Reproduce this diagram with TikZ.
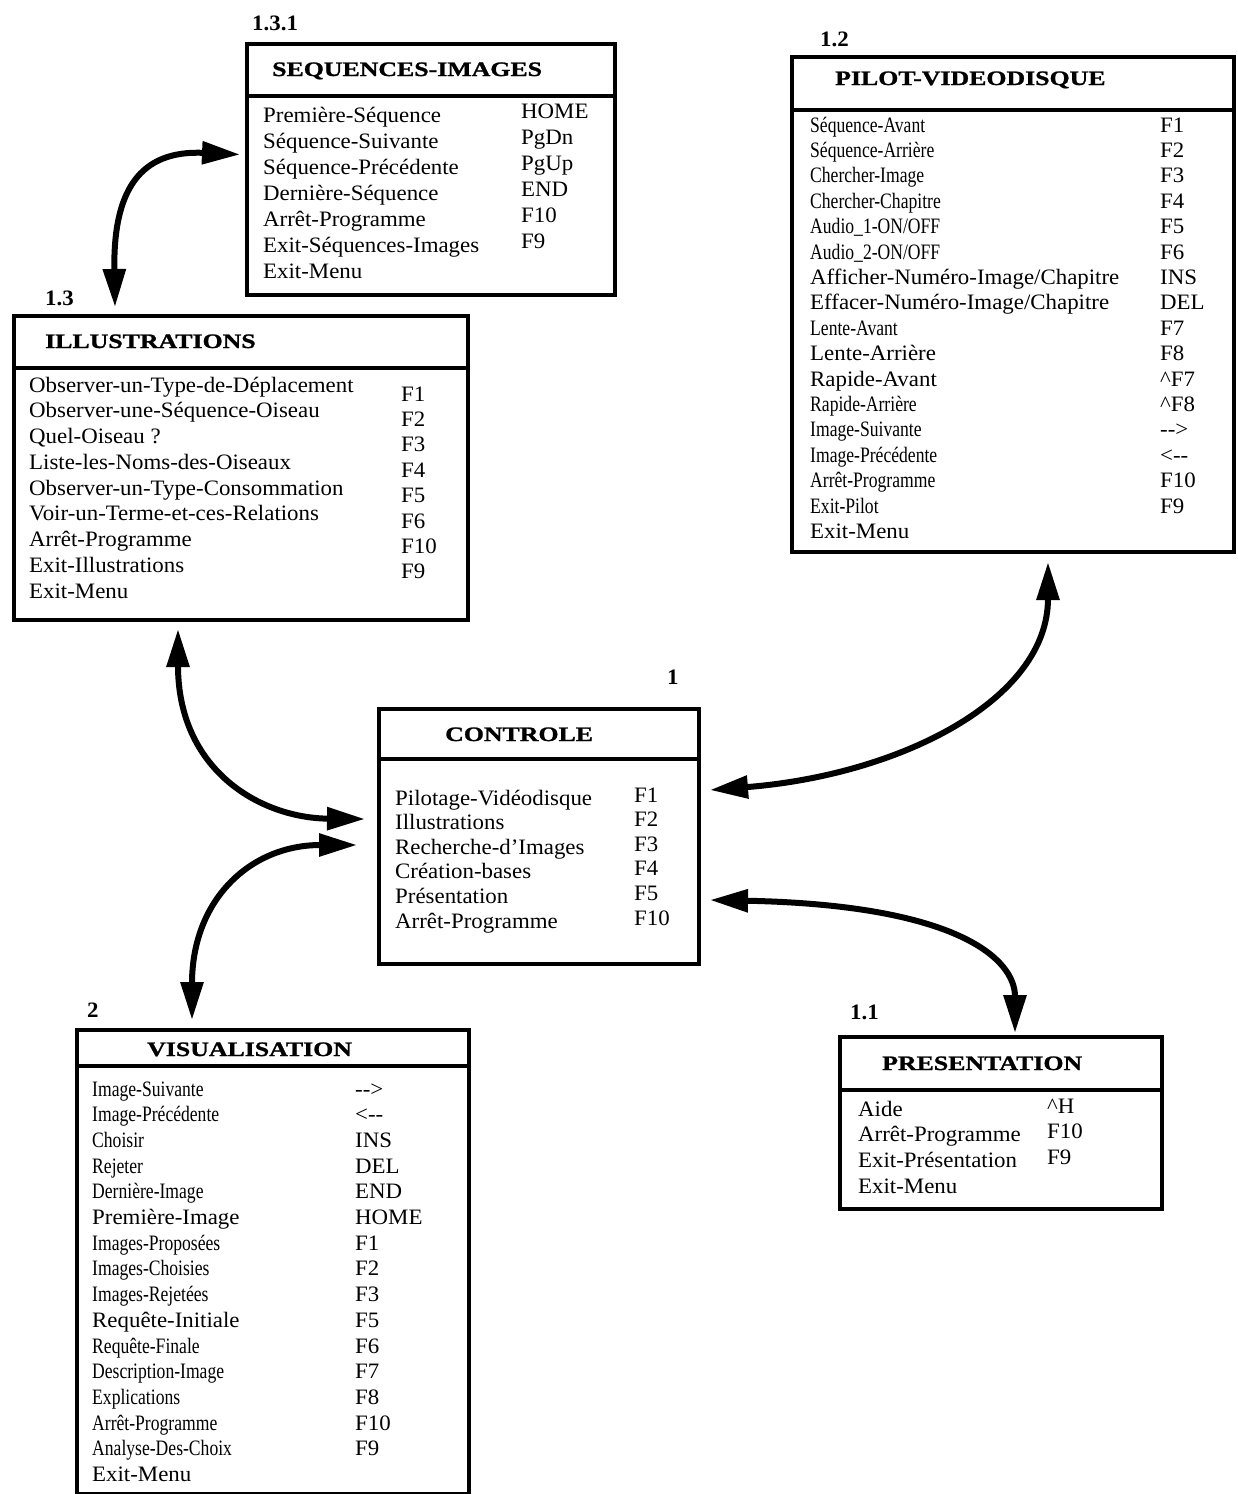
\documentclass[tikz,border=0pt]{standalone}
\usepackage{fontspec}
\setmainfont[FakeStretch=1.04]{Liberation Serif}
\newfontfamily\cndfont[FakeStretch=0.8]{Liberation Serif}
\newfontfamily\ttlfont[FakeStretch=1.26,FakeBold=1.2]{Liberation Serif}
\usetikzlibrary{arrows.meta,calc}
\newcommand\rarr{-\kern0pt-\kern0pt>}
\newcommand\larr{<\kern0pt-\kern0pt-}
\newcommand\ctl{\textasciicircum}
\tikzset{
  box/.style={draw, line width=4pt, inner sep=0pt, anchor=north west},
  divline/.style={line width=4pt},
  txt/.style={anchor=base west, inner sep=0pt, font=\fontsize{22}{22}\selectfont},
  ttl/.style={anchor=base west, inner sep=0pt, font=\ttlfont\bfseries\fontsize{20.5}{20.5}\selectfont},
  lbl/.style={anchor=base west, inner sep=0pt, font=\bfseries\fontsize{22}{22}\selectfont},
  conn/.style={line width=6pt, {Triangle[length=38pt,width=22pt]}-{Triangle[length=38pt,width=22pt]}}
}
\begin{document}
\begin{tikzpicture}[x=1pt,y=-1pt]
\useasboundingbox (0,0) rectangle (1238,1494);

% ---------- 1.3.1 SEQUENCES-IMAGES ----------
\node[box, minimum width=368pt, minimum height=251pt] (seq) at (245,42) {};
\draw[divline] ($(seq.north west)+(0,54)$) -- ($(seq.north east)+(0,54)$);
\node[lbl] (seqlbl) at (252,30) {1.3.1};
\node[ttl] (seqttl) at (272,76) {SEQUENCES-IMAGES};
\foreach \t [count=\i] in {Première-Séquence, Séquence-Suivante, Séquence-Précédente, Dernière-Séquence, Arrêt-Programme, Exit-Séquences-Images, Exit-Menu}
  \node[txt] (seq-a\i) at (263,{122+26*(\i-1)}) {\t};
\foreach \t [count=\i] in {HOME, PgDn, PgUp, END, F10, F9}
  \node[txt] (seq-b\i) at (521,{118+26*(\i-1)}) {\t};

% ---------- 1.2 PILOT-VIDEODISQUE ----------
\node[box, minimum width=442pt, minimum height=495pt] (pil) at (790,55) {};
\draw[divline] ($(pil.north west)+(0,55)$) -- ($(pil.north east)+(0,55)$);
\node[lbl] (pillbl) at (820,46) {1.2};
\node[ttl] (pilttl) at (835,85) {PILOT-VIDEODISQUE};
\foreach \t [count=\i] in {{\cndfont Séquence-Avant}, {\cndfont Séquence-Arrière}, {\cndfont Chercher-Image}, {\cndfont Chercher-Chapitre}, {\cndfont Audio\_1-ON/OFF}, {\cndfont Audio\_2-ON/OFF}, Afficher-Numéro-Image/Chapitre, Effacer-Numéro-Image/Chapitre, {\cndfont Lente-Avant}, Lente-Arrière, Rapide-Avant, {\cndfont Rapide-Arrière}, {\cndfont Image-Suivante}, {\cndfont Image-Précédente}, {\cndfont Arrêt-Programme}, {\cndfont Exit-Pilot}, Exit-Menu}
  \node[txt] (pil-a\i) at (810,{132+25.4*(\i-1)}) {\t};
\foreach \t [count=\i] in {F1, F2, F3, F4, F5, F6, INS, DEL, F7, F8, \ctl F7, \ctl F8, \rarr, \larr, F10, F9}
  \node[txt] (pil-b\i) at (1160,{132+25.4*(\i-1)}) {\t};

% ---------- 1.3 ILLUSTRATIONS ----------
\node[box, minimum width=454pt, minimum height=304pt] (ill) at (12,314) {};
\draw[divline] ($(ill.north west)+(0,54)$) -- ($(ill.north east)+(0,54)$);
\node[lbl] (illlbl) at (45,305) {1.3};
\node[ttl] (illttl) at (45,348) {ILLUSTRATIONS};
\foreach \t [count=\i] in {Observer-un-Type-de-Déplacement, Observer-une-Séquence-Oiseau, Quel-Oiseau ?, Liste-les-Noms-des-Oiseaux, Observer-un-Type-Consommation, Voir-un-Terme-et-ces-Relations, Arrêt-Programme, Exit-Illustrations, Exit-Menu}
  \node[txt] (ill-a\i) at (29,{392+25.75*(\i-1)}) {\t};
\foreach \t [count=\i] in {F1, F2, F3, F4, F5, F6, F10, F9}
  \node[txt] (ill-b\i) at (401,{401+25.4*(\i-1)}) {\t};

% ---------- 1 CONTROLE ----------
\node[box, minimum width=320pt, minimum height=255pt] (ctl) at (377,707) {};
\draw[divline] ($(ctl.north west)+(0,52)$) -- ($(ctl.north east)+(0,52)$);
\node[lbl] (ctllbl) at (667,684) {1};
\node[ttl] (ctlttl) at (445,741) {CONTROLE};
\foreach \t [count=\i] in {Pilotage-Vidéodisque, Illustrations, Recherche-d'Images, Création-bases, Présentation, Arrêt-Programme}
  \node[txt] (ctl-a\i) at (395,{805+24.6*(\i-1)}) {\t};
\foreach \t [count=\i] in {F1, F2, F3, F4, F5, F10}
  \node[txt] (ctl-b\i) at (634,{802+24.6*(\i-1)}) {\t};

% ---------- 2 VISUALISATION ----------
\node[box, minimum width=392pt, minimum height=464pt] (vis) at (75,1028) {};
\draw[divline] ($(vis.north west)+(0,38)$) -- ($(vis.north east)+(0,38)$);
\node[lbl] (vislbl) at (87,1017) {2};
\node[ttl] (visttl) at (147,1056) {VISUALISATION};
\foreach \t [count=\i] in {{\cndfont Image-Suivante}, {\cndfont Image-Précédente}, {\cndfont Choisir}, {\cndfont Rejeter}, {\cndfont Dernière-Image}, Première-Image, {\cndfont Images-Proposées}, {\cndfont Images-Choisies}, {\cndfont Images-Rejetées}, Requête-Initiale, {\cndfont Requête-Finale}, {\cndfont Description-Image}, {\cndfont Explications}, {\cndfont Arrêt-Programme}, {\cndfont Analyse-Des-Choix}, Exit-Menu}
  \node[txt] (vis-a\i) at (92,{1096+25.7*(\i-1)}) {\t};
\foreach \t [count=\i] in {\rarr, \larr, INS, DEL, END, HOME, F1, F2, F3, F5, F6, F7, F8, F10, F9}
  \node[txt] (vis-b\i) at (355,{1096+25.7*(\i-1)}) {\t};

% ---------- 1.1 PRESENTATION ----------
\node[box, minimum width=322pt, minimum height=172pt] (pre) at (838,1035) {};
\draw[divline] ($(pre.north west)+(0,55)$) -- ($(pre.north east)+(0,55)$);
\node[lbl] (prelbl) at (850,1019) {1.1};
\node[ttl] (prettl) at (882,1070) {PRESENTATION};
\foreach \t [count=\i] in {Aide, Arrêt-Programme, Exit-Présentation, Exit-Menu}
  \node[txt] (pre-a\i) at (858,{1116+25.7*(\i-1)}) {\t};
\foreach \t [count=\i] in {\ctl H, F10, F9}
  \node[txt] (pre-b\i) at (1047,{1113+25.7*(\i-1)}) {\t};

% ---------- connectors ----------
\coordinate (ca1) at ($(ill.north west)+(103,-7)$);
\coordinate (ca2) at ($(seq.west)+(-5,-15)$);
\draw[conn] (ca1) .. controls (113,190) and (140,150) .. (ca2);

\coordinate (cb1) at ($(ill.south west)+(166,7)$);
\coordinate (cb2) at (365,819);
\draw[conn] (cb1) .. controls (178,770) and (260,818) .. (cb2);

\coordinate (cc1) at ($(vis.north west)+(117,-8)$);
\coordinate (cc2) at (357,845);
\draw[conn] (cc1) .. controls (192,900) and (250,845) .. (cc2);

\coordinate (cd1) at ($(pil.south west)+(258,8)$);
\coordinate (cd2) at (710,790);
\draw[conn] (cd1) .. controls (1048,700) and (900,775) .. (cd2);

\coordinate (ce1) at (710,900);
\coordinate (ce2) at ($(pre.north west)+(177,-2)$);
\draw[conn] (ce1) .. controls (960,905) and (1015,960) .. (ce2);
\end{tikzpicture}
\end{document}
